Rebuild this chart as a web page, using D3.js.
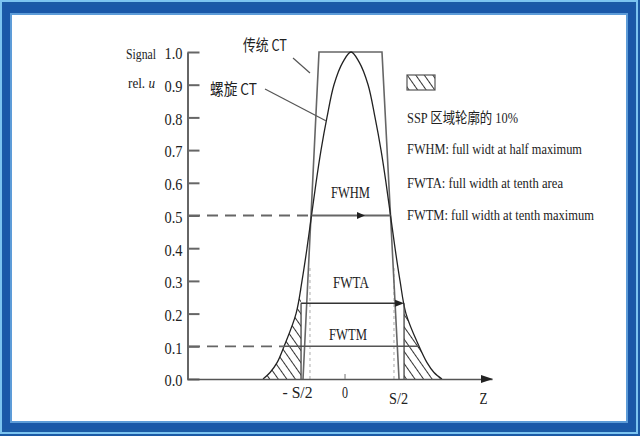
<!DOCTYPE html>
<html><head><meta charset="utf-8">
<script src="https://cdn.jsdelivr.net/npm/d3@7"></script>
<style>
html,body{margin:0;padding:0;background:#fff;}
svg{display:block;}
text{font-family:"Liberation Serif","Times New Roman",serif;fill:#222;}
</style></head>
<body>
<svg id="c" width="640" height="436"></svg>
<script>
// ---------------- data ----------------
const yTickValues = [0,0.1,0.2,0.3,0.4,0.5,0.6,0.7,0.8,0.9,1.0];
const yTickLabels = ["0.0","0.1","0.2","0.3","0.4","0.5","0.6","0.7","0.8","0.9","1.0"];
const xTickValues = [-0.5, 0, 0.5];
const xTickLabels = ["- S/2", "0", "S/2"];
// spiral CT slice sensitivity profile (z in units of S, signal rel. u)
const spiralZ = [-0.854,-0.781,-0.708,-0.635,-0.510,-0.448,-0.396,-0.349,-0.302,-0.250,-0.188,-0.115,-0.021,0.0625,
                 0.146,0.240,0.3125,0.375,0.427,0.474,0.521,0.573,0.635,0.771,0.854,0.927,1.010];
const spiralU = [0,0.02,0.05,0.1,0.2,0.3,0.4,0.5,0.6,0.7,0.8,0.9,0.97,1.0,
                 0.97,0.9,0.8,0.7,0.6,0.5,0.4,0.3,0.2,0.1,0.05,0.02,0];
// conventional CT profile (trapezoid)
const conventionalZ = [-0.4375,-0.271,0.385,0.5625];
const conventionalU = [0,1,1,0];
// widths
const fwhm = {u:0.5, z0:-0.349, z1:0.474, mid:0.135};
const fwtm = {u:0.1, z0:-0.635, z1:0.771};
const fwta = {u:0.232, z0:-0.458, z1:0.615};
const sHalfDotted = {z:[-0.365, 0.51], u:0.345};
const xDomain = [-1.646, 1.531];
const legendLabels = ["SSP 区域轮廓的 10%", "FWHM: full widt at half maximum", "FWTA: full width at tenth area", "FWTM: full width at tenth maximum"];

// ---------------- drawing ----------------
const svg = d3.select("#c");
const W = 640, H = 436;

// frame
svg.append("rect").attr("x",0).attr("y",0).attr("width",W).attr("height",H).attr("fill","#1b5aa6");
svg.append("rect").attr("x",1).attr("y",1).attr("width",W-4).attr("height",H-4).attr("fill","none")
  .attr("stroke","#7cc4f0").attr("stroke-width",2);
svg.append("rect").attr("x",4).attr("y",5).attr("width",W-10).attr("height",H-12).attr("fill","#1a58a8");
svg.append("rect").attr("x",11).attr("y",14).attr("width",616).attr("height",408).attr("fill","none")
  .attr("stroke","#5d9cd8").attr("stroke-width",2);
svg.append("rect").attr("x",12).attr("y",15).attr("width",614).attr("height",406).attr("fill","#ffffff");

const defs = svg.append("defs");
const pat = defs.append("pattern").attr("id","hatch").attr("patternUnits","userSpaceOnUse")
  .attr("width",7).attr("height",10).attr("patternTransform","rotate(-35)");
pat.append("line").attr("x1",3.5).attr("x2",3.5).attr("y1",-1).attr("y2",11).attr("stroke","#333").attr("stroke-width",1);

const x = d3.scaleLinear().domain(xDomain).range([187, 492]);
const y = d3.scaleLinear().domain([0,1]).range([379, 52]);

const pts = spiralZ.map((z,i)=>[z, spiralU[i]]);
const curve = d3.curveCatmullRom.alpha(0.5);

defs.append("clipPath").attr("id","under").append("path")
  .attr("d", d3.area().x(d=>x(d[0])).y0(y(0)).y1(d=>y(d[1])).curve(curve)(pts));

// hatched tails
const hatchG = svg.append("g").attr("clip-path","url(#under)");
hatchG.append("rect").attr("x",x(-1)).attr("y",y(0.4)).attr("width",x(fwta.z0)-x(-1)).attr("height",y(0)-y(0.4)).attr("fill","url(#hatch)");
hatchG.append("rect").attr("x",x(fwta.z1)).attr("y",y(0.4)).attr("width",x(1.1)-x(fwta.z1)).attr("height",y(0)-y(0.4)).attr("fill","url(#hatch)");

// dotted S/2 guides
sHalfDotted.z.forEach(z=>{
  svg.append("line").attr("x1",x(z)).attr("x2",x(z)).attr("y1",y(0)).attr("y2",y(sHalfDotted.u))
    .attr("stroke","#aaa").attr("stroke-width",1).attr("stroke-dasharray","3,3");
});

// conventional CT trapezoid
svg.append("path").attr("d", d3.line().x((d,i)=>x(conventionalZ[i])).y((d,i)=>y(conventionalU[i]))(conventionalZ))
  .attr("fill","none").attr("stroke","#666").attr("stroke-width",1.6);

// spiral curve
svg.append("path").attr("d", d3.line().x(d=>x(d[0])).y(d=>y(d[1])).curve(curve)(pts))
  .attr("fill","none").attr("stroke","#222").attr("stroke-width",1.3);

// dashed guides at 0.5 and 0.1
[[fwhm.u, fwhm.z0],[fwtm.u, fwtm.z0]].forEach(([u,z])=>{
  svg.append("line").attr("x1",x(xDomain[0])+2).attr("x2",x(z)).attr("y1",y(u)).attr("y2",y(u))
    .attr("stroke","#666").attr("stroke-width",1.8).attr("stroke-dasharray","11,7");
});
// FWHM line with mid arrow
svg.append("line").attr("x1",x(fwhm.z0)).attr("x2",x(fwhm.z1)).attr("y1",y(fwhm.u)).attr("y2",y(fwhm.u))
  .attr("stroke","#666").attr("stroke-width",2);
{
  const ax = x(fwhm.mid), ay = y(fwhm.u);
  svg.append("path").attr("d",`M${ax-1},${ay-3.5}L${ax+7},${ay}L${ax-1},${ay+3.5}Z`).attr("fill","#222");
}
// FWTM line
svg.append("line").attr("x1",x(fwtm.z0)).attr("x2",x(fwtm.z1)).attr("y1",y(fwtm.u)).attr("y2",y(fwtm.u))
  .attr("stroke","#555").attr("stroke-width",1.5);
// FWTA bounds + arrow
[fwta.z0, fwta.z1].forEach(z=>{
  svg.append("line").attr("x1",x(z)).attr("x2",x(z)).attr("y1",y(0)).attr("y2",y(fwta.u))
    .attr("stroke","#444").attr("stroke-width",1.3);
});
svg.append("line").attr("x1",x(fwta.z0)).attr("x2",x(fwta.z1)-6).attr("y1",y(fwta.u)).attr("y2",y(fwta.u))
  .attr("stroke","#333").attr("stroke-width",1.5);
{
  const ax = x(fwta.z1), ay = y(fwta.u);
  svg.append("path").attr("d",`M${ax-9},${ay-3.5}L${ax},${ay}L${ax-9},${ay+3.5}Z`).attr("fill","#222");
}

// y axis
const yAxis = d3.axisLeft(y).tickValues(yTickValues).tickFormat((d,i)=>yTickLabels[i])
  .tickSizeInner(-12).tickSizeOuter(0).tickPadding(5);
const gy = svg.append("g").attr("transform","translate(187.5,0)").call(yAxis);
gy.attr("font-family", null);
gy.select(".domain").attr("stroke","#666").attr("stroke-width",2);
gy.selectAll(".tick line").attr("stroke","#666").attr("stroke-width",2);
gy.selectAll(".tick text").attr("font-size",17).attr("fill","#222").attr("dy","0.4em")
  .attr("textLength",18).attr("lengthAdjust","spacingAndGlyphs");

// x axis
const xAxis = d3.axisBottom(x).tickValues(xTickValues).tickFormat((d,i)=>xTickLabels[i])
  .tickSize(0).tickPadding(7);
const gx = svg.append("g").attr("transform","translate(0,379)").call(xAxis);
gx.attr("font-family", null);
gx.select(".domain").attr("stroke","#555").attr("stroke-width",1.6);
const xLabelWidths = [30, 6, 19];
const xLabelDx = [0, -0.5, 5];
const xLabelDy = [0, 0, 6];
gx.selectAll(".tick text").each(function(d,i){
  d3.select(this).attr("font-size",17).attr("fill","#222")
    .attr("textLength",xLabelWidths[i]).attr("lengthAdjust","spacingAndGlyphs")
    .attr("dx",xLabelDx[i]).attr("y",7 + xLabelDy[i]).attr("dy","0.71em");
});
// zero tick
svg.append("line").attr("x1",x(0)).attr("x2",x(0)).attr("y1",y(0)).attr("y2",y(0)-5).attr("stroke","#888").attr("stroke-width",1.2);
// arrow head
{
  const ax = x(xDomain[1]), ay = y(0);
  svg.append("path").attr("d",`M${ax-11},${ay-4}L${ax+1},${ay}L${ax-11},${ay+4}Z`).attr("fill","#222");
}
svg.append("text").attr("x",483.5).attr("y",404).attr("text-anchor","middle").attr("font-size",17)
  .attr("textLength",8).attr("lengthAdjust","spacingAndGlyphs").text("Z");

// axis title
svg.append("text").attr("x",126).attr("y",59).attr("font-size",14).attr("textLength",30).attr("lengthAdjust","spacingAndGlyphs").text("Signal");
const rel = svg.append("text").attr("x",128).attr("y",88).attr("font-size",14).attr("textLength",27).attr("lengthAdjust","spacingAndGlyphs");
rel.append("tspan").text("rel. ");
rel.append("tspan").attr("font-style","italic").text("u");

// annotations
svg.append("text").attr("x",243).attr("y",51).attr("font-size",16).attr("textLength",44).attr("lengthAdjust","spacingAndGlyphs")
  .style("font-family","'Noto Sans CJK SC','Liberation Serif',serif").text("传统 CT");
svg.append("line").attr("x1",293).attr("y1",58).attr("x2",310).attr("y2",73).attr("stroke","#555").attr("stroke-width",1.2);
svg.append("text").attr("x",210).attr("y",95).attr("font-size",16).attr("textLength",47).attr("lengthAdjust","spacingAndGlyphs")
  .style("font-family","'Noto Sans CJK SC','Liberation Serif',serif").text("螺旋 CT");
svg.append("line").attr("x1",265).attr("y1",89).attr("x2",x(-0.2)).attr("y2",y(0.79)).attr("stroke","#555").attr("stroke-width",1.2);

// width labels
[["FWHM",350.5,198,39],["FWTA",351,288,36],["FWTM",348,340,38]].forEach(([t,cx,by,w])=>{
  svg.append("text").attr("x",cx).attr("y",by).attr("text-anchor","middle").attr("font-size",17)
    .attr("textLength",w).attr("lengthAdjust","spacingAndGlyphs").text(t);
});

// legend
svg.append("rect").attr("x",407).attr("y",75).attr("width",28).attr("height",15)
  .attr("fill","url(#hatch)").attr("stroke","#555").attr("stroke-width",1.2);
const legY = [123, 154, 188, 220];
const legW = [111, 175, 156, 187];
legendLabels.forEach((t,i)=>{
  svg.append("text").attr("x",407).attr("y",legY[i]).attr("font-size",15)
    .attr("textLength",legW[i]).attr("lengthAdjust","spacingAndGlyphs")
    .style("font-family","'Liberation Serif','Noto Sans CJK SC',serif").text(t);
});
</script>
</body></html>
